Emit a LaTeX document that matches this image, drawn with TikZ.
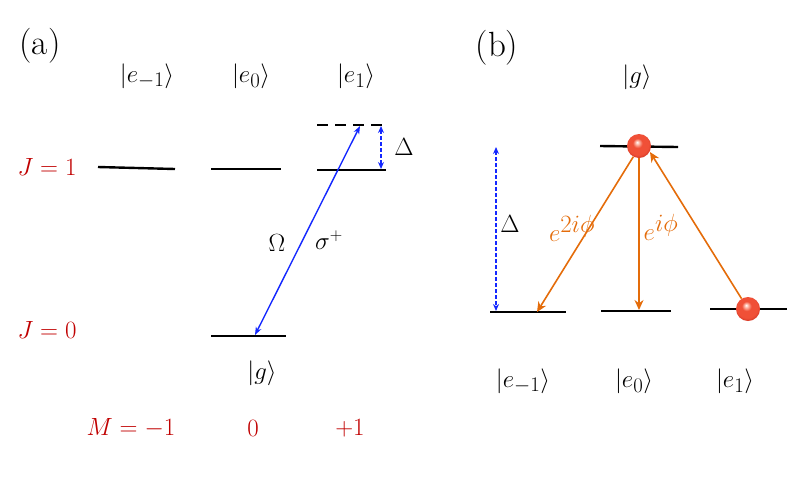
\documentclass[tikz,border=0pt]{standalone}
\usetikzlibrary{arrows.meta,shadings}
\definecolor{myred}{RGB}{192,0,0}
\definecolor{myblue}{RGB}{20,40,255}
\definecolor{myorange}{RGB}{228,108,10}
\definecolor{ballred}{RGB}{240,80,55}
\definecolor{balldark}{RGB}{200,45,30}
\definecolor{balllight}{RGB}{255,200,185}
\pgfdeclareradialshading{redball}{\pgfpoint{-4bp}{8bp}}{%
  color(0bp)=(white); color(3bp)=(balllight); color(10bp)=(ballred);
  color(22bp)=(ballred); color(30bp)=(balldark); color(40bp)=(balldark)}
\tikzset{
  lvl/.style={line width=2.4pt,black},
  ket/.style={font=\fontsize{28}{32}\selectfont,inner sep=0pt},
  sym/.style={font=\fontsize{26}{30}\selectfont,inner sep=0pt},
  rlbl/.style={font=\fontsize{28}{32}\selectfont,inner sep=0pt,text=myred},
  phase/.style={font=\fontsize{33}{37}\selectfont,inner sep=0pt,text=myorange},
  panel/.style={font=\fontsize{35}{39}\selectfont,inner sep=0pt},
  blarrow/.style={myblue,line width=1.4pt,{Stealth[length=8pt,width=6pt]}-{Stealth[length=8pt,width=6pt]}},
  dblarrow/.style={myblue,line width=1.3pt,dash pattern=on 4pt off 2pt,{Stealth[length=7pt,width=6pt]}-{Stealth[length=7pt,width=6pt]}},
  orarrow/.style={myorange,line width=1.6pt,-{Stealth[length=10pt,width=9pt]}},
  ballnode/.style={circle,minimum size=24pt,inner sep=0pt,shading=redball}
}
\begin{document}
\begin{tikzpicture}[x=1pt,y=-1pt]
\useasboundingbox (0,0) rectangle (797,480);
% ---------- panel (a) ----------
\node[panel] (pa) at (40,46) {(a)};
\node[ket] (em1) at (147,76) {$|e_{-1}\rangle$};
\node[ket] (e0) at (251,76) {$|e_{0}\rangle$};
\node[ket] (e1) at (356,76) {$|e_{1}\rangle$};
\node[rlbl] (J1) at (47,167) {$J=1$};
\node[rlbl] (J0) at (47,330) {$J=0$};
% levels
\coordinate (am1L) at (98,167); \coordinate (am1R) at (175,169);
\coordinate (a0L) at (211,169); \coordinate (a0R) at (281,169);
\coordinate (a1L) at (317,170); \coordinate (a1R) at (386,170);
\coordinate (adL) at (317,125); \coordinate (adR) at (386,125);
\coordinate (agL) at (211,336); \coordinate (agR) at (286,336);
\draw[lvl] (am1L) -- (am1R);
\draw[lvl] (a0L) -- (a0R);
\draw[lvl] (a1L) -- (a1R);
\draw[lvl,dash pattern=on 11pt off 7pt] (adL) -- (adR);
\draw[lvl] (agL) -- (agR);
% detuning arrow
\coordinate (dTop) at (381,126); \coordinate (dBot) at (381,169);
\draw[dblarrow] (dTop) -- (dBot);
\node[sym] (Da) at (404,147) {$\Delta$};
% laser
\coordinate (lTop) at (360,126); \coordinate (lBot) at (255,335);
\draw[blarrow] (lBot) -- (lTop);
\node[sym] (Om) at (277,243) {$\Omega$};
\node[sym] (sig) at (329,240) {$\sigma^{+}$};
\node[ket] (g) at (262,373) {$|g\rangle$};
\node[rlbl] (Mm1) at (131,428) {$M=-1$};
\node[rlbl] (M0) at (253,428) {$0$};
\node[rlbl] (Mp1) at (350,428) {$+1$};
% ---------- panel (b) ----------
\node[panel] (pb) at (497,48) {(b)};
\node[ket] (gb) at (637,77) {$|g\rangle$};
\coordinate (bgL) at (600,146); \coordinate (bgR) at (678,147);
\coordinate (bm1L) at (490,312); \coordinate (bm1R) at (566,312);
\coordinate (b0L) at (601,311); \coordinate (b0R) at (671,311);
\coordinate (b1L) at (710,309); \coordinate (b1R) at (787,309);
\draw[lvl] (bgL) -- (bgR);
\draw[lvl] (bm1L) -- (bm1R);
\draw[lvl] (b0L) -- (b0R);
\draw[lvl] (b1L) -- (b1R);
% detuning
\coordinate (bdTop) at (496,147); \coordinate (bdBot) at (496,311);
\draw[dblarrow] (bdTop) -- (bdBot);
\node[sym] (Db) at (510,224) {$\Delta$};
% balls
\node[ballnode] (ballg) at (639,146) {};
\node[ballnode] (ball1) at (748,309) {};
% orange arrows
\coordinate (tm1) at (537,312);
\coordinate (t0) at (639,310);
\coordinate (tg) at (650,152);
\draw[orarrow] (ballg.-118) -- (tm1);
\draw[orarrow] (ballg.south) -- (t0);
\draw[orarrow] (ball1.122) -- (tg);
\node[phase] (ph2) at (572,228) {$e^{2i\phi}$};
\node[phase] (ph1) at (661,227) {$e^{i\phi}$};
\node[ket] (bem1) at (523,381) {$|e_{-1}\rangle$};
\node[ket] (be0) at (634,381) {$|e_{0}\rangle$};
\node[ket] (be1) at (735,381) {$|e_{1}\rangle$};
\end{tikzpicture}
\end{document}
